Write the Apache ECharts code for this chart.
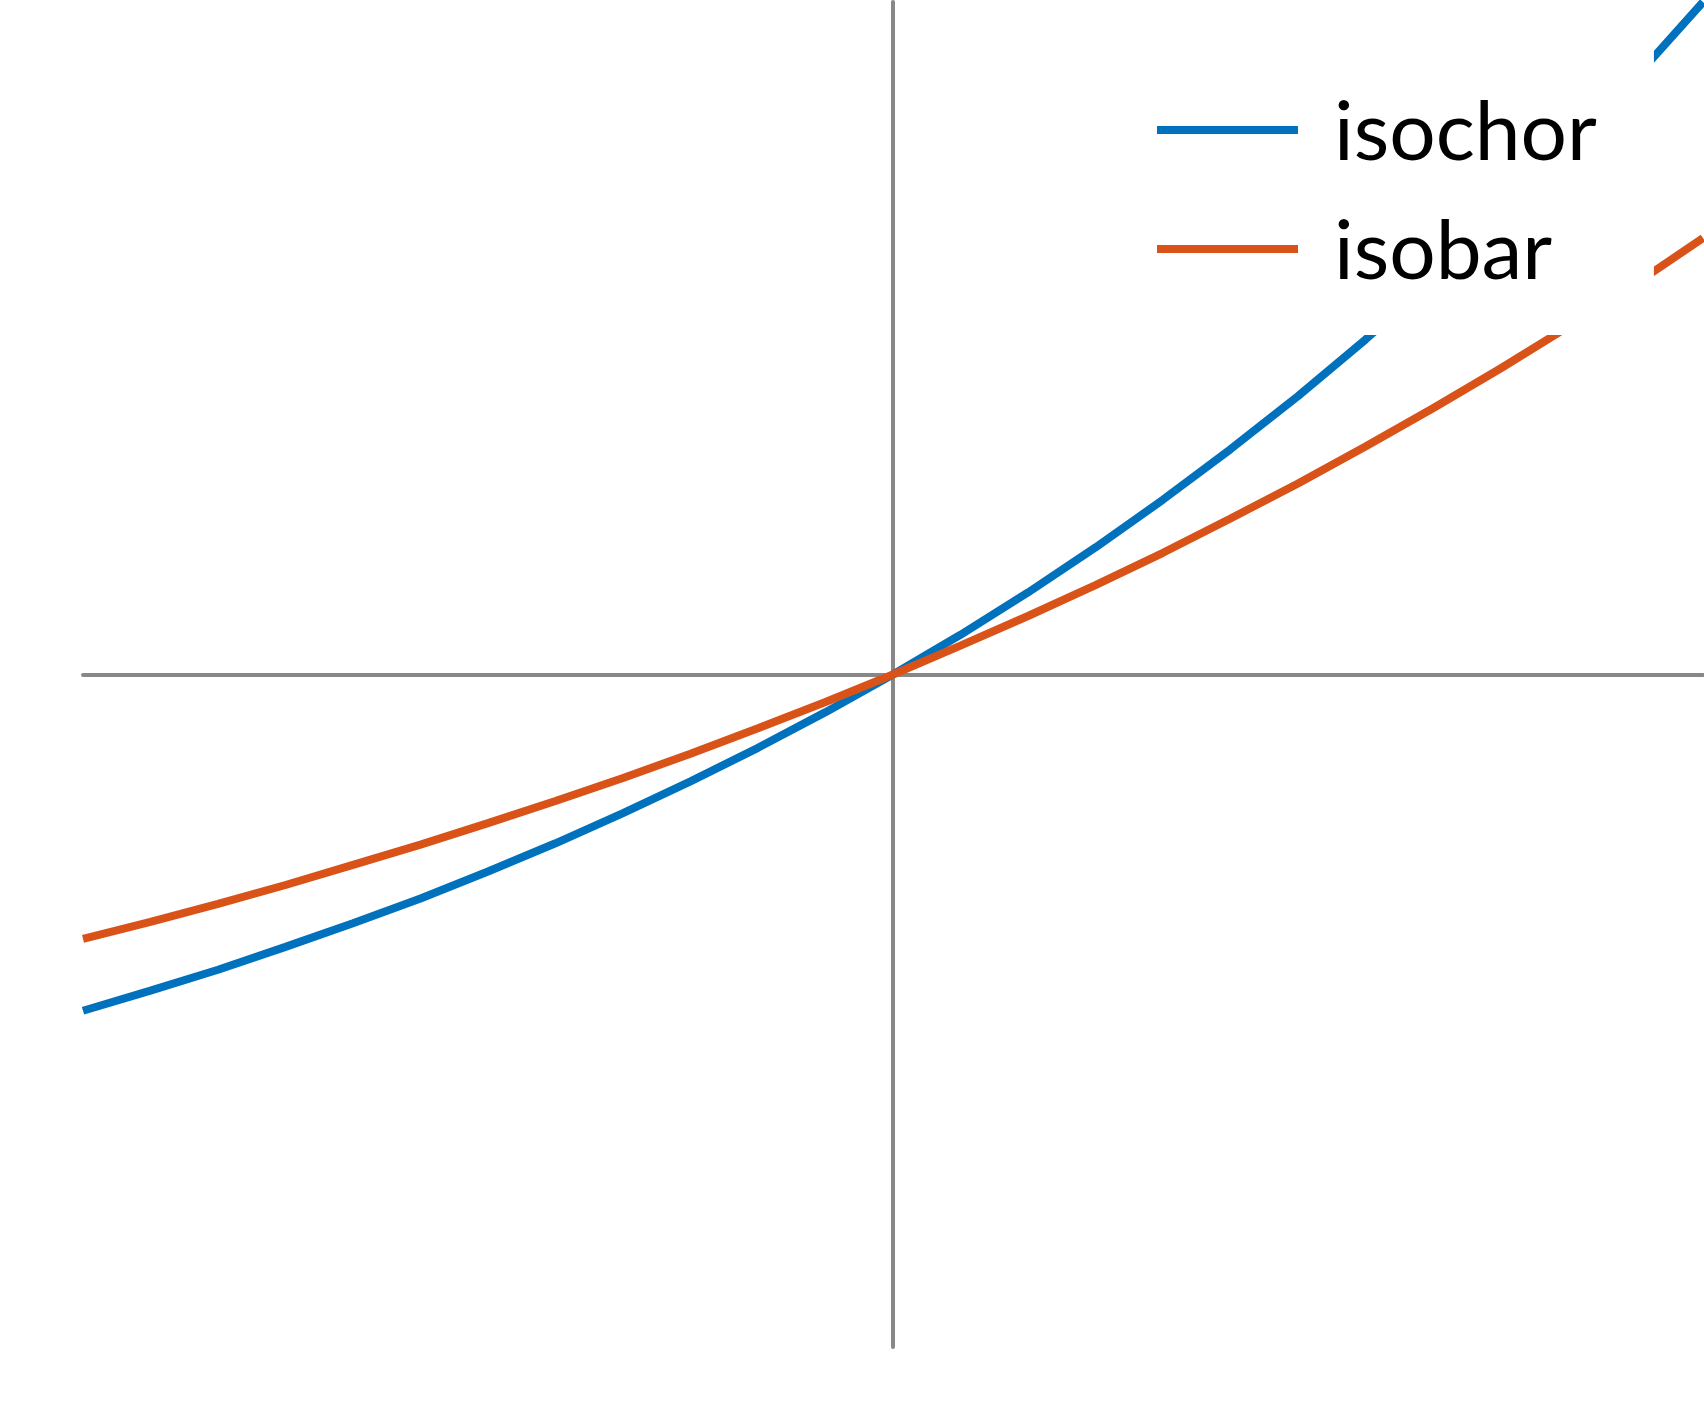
<!DOCTYPE html>
<html lang="en">
<head>
    <meta charset="UTF-8">
    <title>isochor / isobar</title>
    <script src="https://cdn.jsdelivr.net/npm/echarts@6/dist/echarts.min.js"></script>
</head>
<body style="margin:0;background:#fff;">
<div id="demo" style="width:1704px;height:1414px;"></div>
</body>
</html>
<script>
    // x positions of the sample points (24 segments from -1 to 1)
    var xVals = [-1, -0.9167, -0.8333, -0.75, -0.6667, -0.5833, -0.5, -0.4167, -0.3333, -0.25, -0.1667, -0.0833, 0,
        0.0833, 0.1667, 0.25, 0.3333, 0.4167, 0.5, 0.5833, 0.6667, 0.75, 0.8333, 0.9167, 1];
    var isochorVals = [-0.5, -0.47, -0.439, -0.405, -0.37, -0.333, -0.293, -0.251, -0.206, -0.159, -0.109, -0.056, 0,
        0.059, 0.122, 0.189, 0.26, 0.335, 0.414, 0.498, 0.587, 0.682, 0.782, 0.888, 1.0];
    var isobarVals = [-0.393, -0.368, -0.341, -0.313, -0.283, -0.253, -0.221, -0.188, -0.154, -0.118, -0.08, -0.041, 0,
        0.043, 0.087, 0.133, 0.181, 0.232, 0.284, 0.339, 0.396, 0.455, 0.517, 0.581, 0.649];
    var names = ['isochor', 'isobar'];
    var colors = ['#0072BD', '#D95319'];

    function pairs(ys) {
        var out = [];
        for (var i = 0; i < xVals.length; i++) {
            out.push([xVals[i], ys[i]]);
        }
        return out;
    }

    var axisStyle = {
        type: 'value',
        min: -1,
        max: 1,
        axisLine: {show: true, onZero: true, lineStyle: {color: '#888', width: 4}},
        axisTick: {show: false},
        axisLabel: {show: false},
        splitLine: {show: false}
    };

    var myChart = echarts.init(document.getElementById('demo'));
    var option = {
        animation: false,
        backgroundColor: '#fff',
        grid: {left: 83, right: 1, top: 2, bottom: 67},
        xAxis: axisStyle,
        yAxis: axisStyle,
        legend: {
            orient: 'vertical',
            left: 1108,
            top: 44,
            padding: [41, 57, 41, 49],
            itemGap: 29,
            itemWidth: 141,
            itemHeight: 8,
            icon: 'rect',
            backgroundColor: '#fff',
            formatter: '{n|{name}}',
            textStyle: {
                color: '#000',
                rich: {
                    n: {
                        fontFamily: 'Lato',
                        fontSize: 82,
                        lineHeight: 90,
                        color: '#000',
                        padding: [8, 0, 0, 31]
                    }
                }
            },
            data: names
        },
        series: [
            {
                name: names[0],
                type: 'line',
                symbol: 'none',
                color: colors[0],
                lineStyle: {width: 8, color: colors[0]},
                data: pairs(isochorVals)
            },
            {
                name: names[1],
                type: 'line',
                symbol: 'none',
                color: colors[1],
                lineStyle: {width: 8, color: colors[1]},
                data: pairs(isobarVals)
            }
        ]
    };
    myChart.setOption(option);
</script>
